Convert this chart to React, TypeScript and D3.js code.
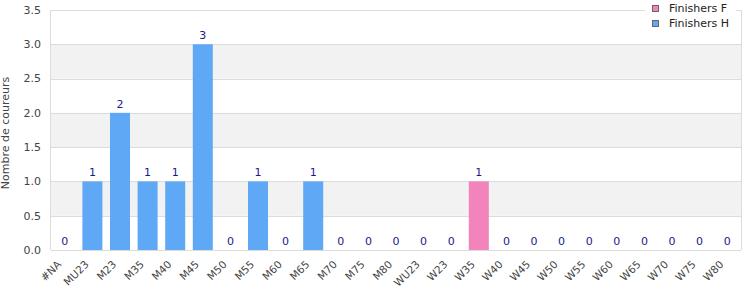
import React from "react";
import * as d3 from "d3";

const categories = ["#NA","MU23","M23","M35","M40","M45","M50","M55","M60","M65","M70","M75","M80","WU23","W23","W35","W40","W45","W50","W55","W60","W65","W70","W75","W80"];
const finishersH: (number | null)[] = [0,1,2,1,1,3,0,1,0,1,0,0,0,null,null,null,null,null,null,null,null,null,null,null,null];
const finishersF: (number | null)[] = [null,null,null,null,null,null,null,null,null,null,null,null,null,0,0,1,0,0,0,0,0,0,0,0,0];
const yTicks = [0,0.5,1,1.5,2,2.5,3,3.5];
const seriesNames = ["Finishers F","Finishers H"];

const W = 750, H = 300;
const left = 51, right = 741, top = 10, bottom = 250;
const font = "DejaVu Sans, Verdana, sans-serif";
const colorH = "#5fa8f5";
const colorF = "#f283bb";

export default function App() {
  const x = d3.scaleBand<string>().domain(categories).range([left, right]).paddingInner(0.275).paddingOuter(0.1375);
  const y = d3.scaleLinear().domain([0, 3.5]).range([bottom, top]);
  const series = [
    { name: "Finishers H", values: finishersH, color: colorH },
    { name: "Finishers F", values: finishersF, color: colorF },
  ];
  const bands: number[][] = [[0.5,1],[1.5,2],[2.5,3]];
  return (
    <svg width={W} height={H} style={{ position: "absolute", left: 0, top: 0, background: "#fff" }} fontFamily={font}>
      {bands.map(([a,b], i) => (
        <rect key={"b"+i} x={left} y={y(b)} width={right-left} height={y(a)-y(b)} fill="#f2f2f2" />
      ))}
      {yTicks.map((t) => (
        <line key={"g"+t} x1={left} x2={right} y1={Math.round(y(t))+0.5} y2={Math.round(y(t))+0.5} stroke="#dcdcdc" />
      ))}
      <line x1={left-0.5} x2={left-0.5} y1={top} y2={bottom} stroke="#dcdcdc" />
      <line x1={right+0.5} x2={right+0.5} y1={top} y2={bottom} stroke="#dcdcdc" />
      {yTicks.map((t) => (
        <text key={"yt"+t} x={left-10} y={y(t)} dy="0.35em" textAnchor="end" fontSize={11} fill="#444">{t.toFixed(1)}</text>
      ))}
      <text transform={`translate(9,${(top+bottom)/2+3}) rotate(-90)`} textAnchor="middle" fontSize={11} fill="#444">Nombre de coureurs</text>
      {series.map((s) => s.values.map((v, i) => v == null ? null : (
        <g key={s.name+i}>
          {v > 0 && <rect x={x(categories[i])!} y={y(v)} width={x.bandwidth()} height={y(0)-y(v)} fill={s.color} />}
          <text x={x(categories[i])! + x.bandwidth()/2} y={y(v) - 5} textAnchor="middle" fontSize={11} fill="#1a1a8c">{v}</text>
        </g>
      )))}
      {categories.map((c) => {
        const cx = x(c)! + x.bandwidth()/2;
        return <text key={"xl"+c} transform={`translate(${cx-3},${bottom+15}) rotate(-45)`} textAnchor="end" fontSize={10.5} fill="#444">{c}</text>;
      })}
      <rect x={645} y={0} width={91} height={31} fill="#fff" />
      {seriesNames.map((n, i) => (
        <g key={"lg"+n}>
          <rect x={652.5} y={5.5 + i*15} width={6} height={6} fill={n === "Finishers F" ? colorF : colorH} stroke="#666" strokeWidth={1} />
          <text x={669} y={8.5 + i*15} dy="0.35em" fontSize={11} fill="#222">{n}</text>
        </g>
      ))}
    </svg>
  );
}
